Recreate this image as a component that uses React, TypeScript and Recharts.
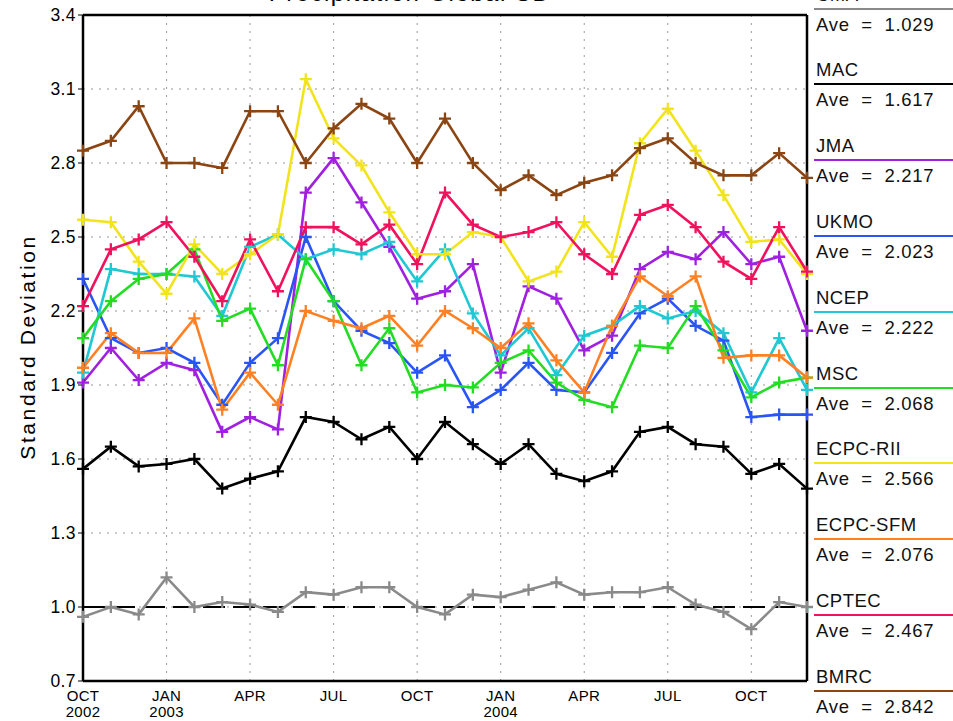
import { LineChart, Line, XAxis, YAxis, CartesianGrid, ReferenceLine } from 'recharts';

// monthly points, Oct 2002 .. Dec 2004
const months = [
  '2002-10', '2002-11', '2002-12',
  '2003-01', '2003-02', '2003-03', '2003-04', '2003-05', '2003-06',
  '2003-07', '2003-08', '2003-09', '2003-10', '2003-11', '2003-12',
  '2004-01', '2004-02', '2004-03', '2004-04', '2004-05', '2004-06',
  '2004-07', '2004-08', '2004-09', '2004-10', '2004-11', '2004-12',
];

const xTicks = [0, 3, 6, 9, 12, 15, 18, 21, 24];
const xTickMonth = ['OCT', 'JAN', 'APR', 'JUL', 'OCT', 'JAN', 'APR', 'JUL', 'OCT'];
const xTickYear = ['2002', '2003', '', '', '', '2004', '', '', ''];
const yTicks = [0.7, 1.0, 1.3, 1.6, 1.9, 2.2, 2.5, 2.8, 3.1, 3.4];

const models = ['CMA', 'MAC', 'JMA', 'UKMO', 'NCEP', 'MSC', 'ECPC-RII', 'ECPC-SFM', 'CPTEC', 'BMRC'];
const averages = ['1.029', '1.617', '2.217', '2.023', '2.222', '2.068', '2.566', '2.076', '2.467', '2.842'];

const cma = [0.96, 1.0, 0.97, 1.12, 1.0, 1.02, 1.01, 0.98, 1.06, 1.05, 1.08, 1.08, 1.0, 0.97, 1.05, 1.04, 1.07, 1.1, 1.05, 1.06, 1.06, 1.08, 1.01, 0.98, 0.91, 1.02, 1.0];
const mac = [1.56, 1.65, 1.57, 1.58, 1.6, 1.48, 1.52, 1.55, 1.77, 1.75, 1.68, 1.73, 1.6, 1.75, 1.66, 1.58, 1.66, 1.54, 1.51, 1.55, 1.71, 1.73, 1.66, 1.65, 1.54, 1.58, 1.48];
const jma = [1.91, 2.05, 1.92, 1.99, 1.96, 1.71, 1.77, 1.72, 2.68, 2.82, 2.64, 2.46, 2.25, 2.28, 2.39, 1.95, 2.3, 2.25, 2.04, 2.1, 2.37, 2.44, 2.41, 2.52, 2.39, 2.42, 2.12];
const ukmo = [2.33, 2.09, 2.03, 2.05, 1.99, 1.82, 1.99, 2.09, 2.5, 2.24, 2.12, 2.07, 1.95, 2.02, 1.81, 1.88, 1.99, 1.88, 1.87, 2.03, 2.19, 2.25, 2.14, 2.08, 1.77, 1.78, 1.78];
const ncep = [1.95, 2.37, 2.35, 2.35, 2.34, 2.18, 2.46, 2.51, 2.41, 2.45, 2.43, 2.48, 2.32, 2.45, 2.19, 2.02, 2.13, 1.94, 2.1, 2.14, 2.22, 2.17, 2.2, 2.11, 1.87, 2.09, 1.88];
const msc = [2.09, 2.24, 2.33, 2.35, 2.45, 2.16, 2.21, 1.98, 2.41, 2.24, 1.98, 2.13, 1.87, 1.9, 1.89, 1.99, 2.04, 1.91, 1.84, 1.81, 2.06, 2.05, 2.22, 2.04, 1.85, 1.91, 1.93];
const ecpcRii = [2.57, 2.56, 2.4, 2.27, 2.47, 2.35, 2.43, 2.51, 3.14, 2.9, 2.79, 2.6, 2.43, 2.43, 2.52, 2.5, 2.32, 2.36, 2.56, 2.42, 2.88, 3.02, 2.85, 2.67, 2.48, 2.49, 2.35];
const ecpcSfm = [1.97, 2.11, 2.03, 2.03, 2.17, 1.8, 1.95, 1.82, 2.2, 2.16, 2.13, 2.18, 2.06, 2.2, 2.13, 2.05, 2.15, 2.0, 1.87, 2.14, 2.34, 2.26, 2.34, 2.01, 2.02, 2.02, 1.93];
const cptec = [2.22, 2.45, 2.49, 2.56, 2.42, 2.24, 2.49, 2.28, 2.54, 2.54, 2.47, 2.55, 2.39, 2.68, 2.55, 2.5, 2.52, 2.56, 2.43, 2.35, 2.59, 2.63, 2.54, 2.4, 2.33, 2.54, 2.36];
const bmrc = [2.85, 2.89, 3.03, 2.8, 2.8, 2.78, 3.01, 3.01, 2.8, 2.94, 3.04, 2.98, 2.8, 2.98, 2.8, 2.69, 2.75, 2.67, 2.72, 2.75, 2.86, 2.9, 2.8, 2.75, 2.75, 2.84, 2.74];

const seriesValues: Record<string, number[]> = {
  CMA: cma,
  MAC: mac,
  JMA: jma,
  UKMO: ukmo,
  NCEP: ncep,
  MSC: msc,
  'ECPC-RII': ecpcRii,
  'ECPC-SFM': ecpcSfm,
  CPTEC: cptec,
  BMRC: bmrc,
};

const colors: Record<string, string> = {
  CMA: '#8a8a8a',
  MAC: '#000000',
  JMA: '#a020e0',
  UKMO: '#2a55f5',
  NCEP: '#1fc8d2',
  MSC: '#22dd22',
  'ECPC-RII': '#f2e41c',
  'ECPC-SFM': '#ff8124',
  CPTEC: '#f0125c',
  BMRC: '#8b4513',
};

const data = months.map((month, i) => {
  const row: Record<string, number | string> = { i, month };
  models.forEach((m) => {
    row[m] = seriesValues[m][i];
  });
  return row;
});

const FONT = '"Liberation Sans", Arial, sans-serif';

const plusDot = (color: string) => (props: any) => {
  const { cx, cy, index } = props;
  if (cx == null || cy == null) return <g key={index} />;
  return (
    <path
      key={index}
      d={`M${cx - 6},${cy}h12M${cx},${cy - 6}v12`}
      stroke={color}
      strokeWidth={2.3}
      fill="none"
    />
  );
};

const MonthTick = ({ x, y, payload }: any) => {
  const k = xTicks.indexOf(payload.value);
  return (
    <text x={x} y={y} textAnchor="middle" fontFamily={FONT} fontSize={15} fill="#000" letterSpacing={0.3}>
      <tspan x={x} dy={12}>{xTickMonth[k]}</tspan>
      {xTickYear[k] ? <tspan x={x} dy={16}>{xTickYear[k]}</tspan> : null}
    </text>
  );
};

const YTitle = () => (
  <text
    x={27}
    y={347}
    transform="rotate(-90 27 347)"
    textAnchor="middle"
    dominantBaseline="central"
    fontFamily={FONT}
    fontSize={21}
    letterSpacing={2.6}
    fill="#000"
  >
    Standard Deviation
  </text>
);

const Legend = () => (
  <div style={{ position: 'absolute', left: 814, top: 0, width: 139, height: 721, fontFamily: FONT, color: '#111' }}>
    {models.map((m, i) => (
      <div key={m}>
        <div style={{ position: 'absolute', left: 2, top: -5.5 + 75.8 * i - 11, fontSize: 18.5, lineHeight: '22px', letterSpacing: 0.5 }}>
          {m}
        </div>
        <div style={{ position: 'absolute', left: 0, width: 139, top: 8.5 + 75.8 * i - 1, height: 2, background: colors[m] }} />
        <div style={{ position: 'absolute', left: 2, top: 24.5 + 75.8 * i - 11, fontSize: 18.5, lineHeight: '22px', whiteSpace: 'pre', letterSpacing: 0.7 }}>
          {`Ave  =  ${averages[i]}`}
        </div>
      </div>
    ))}
  </div>
);

export default function App() {
  return (
    <div style={{ position: 'absolute', left: 0, top: 0, width: 953, height: 721, overflow: 'hidden', background: '#fff' }}>
      <div
        style={{
          position: 'absolute',
          left: 0,
          width: 820,
          top: -19,
          textAlign: 'center',
          fontFamily: FONT,
          fontSize: 24,
          lineHeight: '24px',
          letterSpacing: 1.5,
        }}
      >
        Precipitation Global SD
      </div>
      <LineChart width={953} height={721} data={data} margin={{ top: 15, right: 146, bottom: 0, left: 23 }}>
        <CartesianGrid stroke="#999" strokeDasharray="2 6" />
        <XAxis
          dataKey="i"
          type="number"
          domain={[0, 26]}
          ticks={xTicks}
          tick={<MonthTick />}
          tickLine={false}
          axisLine={{ stroke: '#000', strokeWidth: 2.5 }}
          height={40}
          interval={0}
        />
        <YAxis
          type="number"
          domain={[0.7, 3.4]}
          ticks={yTicks}
          interval={0}
          width={60}
          tickSize={5}
          tickMargin={2}
          tickLine={{ stroke: '#000' }}
          axisLine={{ stroke: '#000', strokeWidth: 2.5 }}
          tickFormatter={(v: number) => v.toFixed(1)}
          tick={{ fontFamily: FONT, fontSize: 17.5, fill: '#000', letterSpacing: 0.4 }}
          label={<YTitle />}
        />
        <ReferenceLine y={1.0} stroke="#000" strokeWidth={2} strokeDasharray="22 8" />
        <ReferenceLine y={3.4} stroke="#000" strokeWidth={2.5} />
        <ReferenceLine x={26} stroke="#000" strokeWidth={2.5} />
        {models.map((m) => (
          <Line
            key={m}
            dataKey={m}
            type="linear"
            stroke={colors[m]}
            strokeWidth={2.6}
            dot={plusDot(colors[m])}
            activeDot={false}
            isAnimationActive={false}
          />
        ))}
      </LineChart>
      <Legend />
    </div>
  );
}
